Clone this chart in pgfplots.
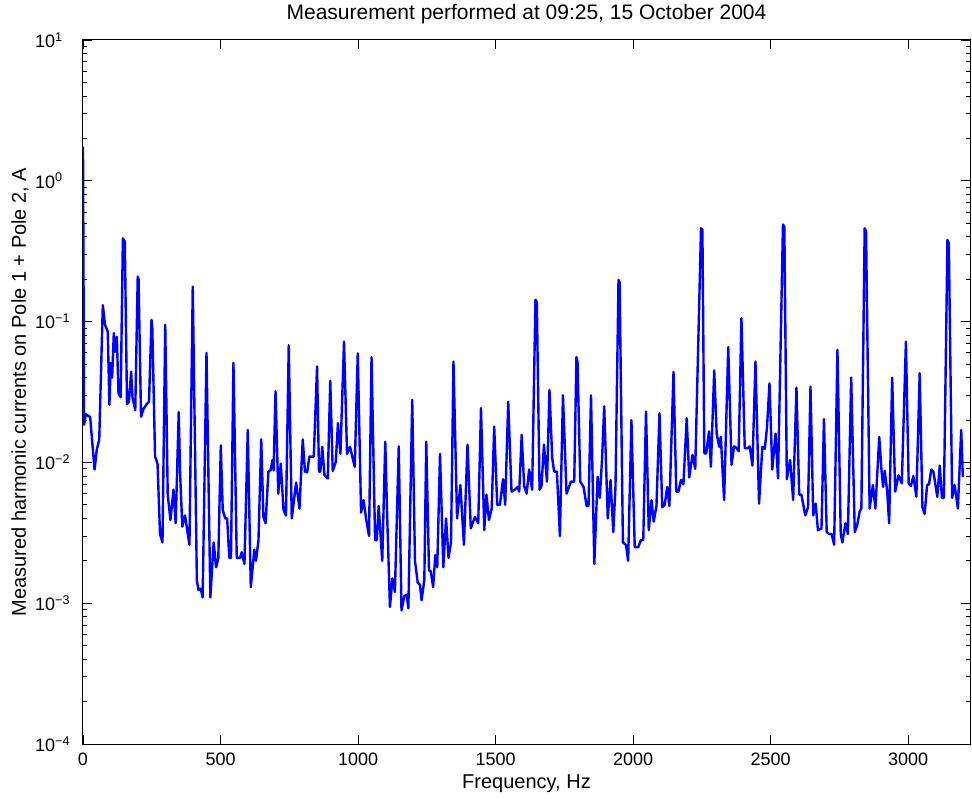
\documentclass[border=0pt]{standalone}
\usepackage{fontspec}
\setmainfont{Liberation Sans}
\usepackage{pgfplots}
\pgfplotsset{compat=1.18}

\begin{document}
\begin{tikzpicture}
% picture frame = 972 x 798 px, axis box from (83,40) to (970,744)
\path[use as bounding box] (-83pt,-54pt) rectangle (889pt,744pt);
\begin{axis}[
  at={(0pt,0pt)}, anchor=south west,
  scale only axis, width=887pt, height=704pt,
  xmin=0, xmax=3225,
  ymode=log, ymin=1e-4, ymax=1e1,
  xtick={0,500,1000,1500,2000,2500,3000},
  scaled x ticks=false,
  /pgf/number format/1000 sep={},
  /pgf/number format/assume math mode=true,
  ytick={1e-4,1e-3,1e-2,1e-1,1,10},
  yticklabels={10\textsuperscript{−4},10\textsuperscript{−3},10\textsuperscript{−2},10\textsuperscript{−1},10\textsuperscript{0},10\textsuperscript{1}},
  tick align=inside,
  major tick length=9pt, minor tick length=4.5pt,
  axis line style={line width=1pt},
  every tick/.style={black, line width=0.8pt},
  xticklabel style={font=\fontsize{18}{20}\selectfont, yshift=-5pt},
  yticklabel style={font=\fontsize{18}{20}\selectfont, anchor=west, inner sep=0pt, xshift=-48pt},
  xlabel={Frequency, Hz},
  ylabel={Measured harmonic currents on Pole 1 + Pole 2, A},
  title={Measurement performed at 09:25, 15 October 2004},
  xlabel style={font=\fontsize{20}{22}\selectfont, at={(axis description cs:0.5,0)}, anchor=base, yshift=-44pt},
  ylabel style={font=\fontsize{20}{22}\selectfont, at={(axis description cs:0,0.5)}, anchor=base, yshift=57pt},
  title style={font=\fontsize{21}{23}\selectfont, at={(axis description cs:0.5,1)}, anchor=base, yshift=14pt},
]
\addplot[color={rgb,1:red,0;green,0;blue,1}, line width=2.4pt, line join=round, no markers] table {
f a
0 1.75
4 0.0185
10 0.022
26 0.021
42 0.0089
50 0.0123
59 0.0145
72 0.131
80 0.095
90 0.085
96 0.0256
101 0.051
106 0.040
112 0.083
117 0.061
123 0.078
129 0.031
137 0.029
145 0.39
152 0.37
160 0.026
167 0.027
175 0.044
180 0.029
190 0.0235
199 0.209
202 0.2
211 0.0211
220 0.024
232 0.026
240 0.027
249 0.103
252 0.09
262 0.011
271 0.0098
280 0.0031
289 0.0027
299 0.095
308 0.0059
318 0.0039
329 0.0064
337 0.0037
348 0.0228
353 0.0084
361 0.0035
371 0.0042
387 0.0026
399 0.177
414 0.00145
420 0.00124
428 0.00127
435 0.0011
449 0.06
463 0.0011
475 0.0027
484 0.0018
492 0.0021
501 0.0132
508 0.0046
517 0.004
524 0.004
532 0.0021
538 0.0021
547 0.051
559 0.0021
571 0.0021
577 0.0023
587 0.0019
599 0.017
610 0.0013
623 0.0024
629 0.002
638 0.0028
648 0.0146
656 0.0041
664 0.0037
674 0.0086
682 0.0088
689 0.0104
693 0.0088
700 0.032
710 0.006
719 0.0098
729 0.0046
738 0.0042
748 0.068
759 0.004
775 0.0072
787 0.0047
799 0.0146
807 0.0086
815 0.0085
823 0.011
831 0.011
839 0.011
851 0.048
858 0.0086
863 0.0086
870 0.0129
878 0.0081
890 0.0077
899 0.038
908 0.0087
919 0.0101
927 0.019
936 0.0115
949 0.072
960 0.0115
971 0.0129
979 0.011
988 0.0093
999 0.0596
1011 0.0044
1020 0.0054
1030 0.0039
1040 0.003
1049 0.056
1062 0.0028
1068 0.0028
1075 0.0049
1088 0.002
1099 0.014
1106 0.0041
1116 0.00094
1125 0.0015
1134 0.0012
1148 0.013
1158 0.00089
1168 0.00112
1177 0.00115
1183 0.00092
1197 0.0278
1207 0.002
1217 0.0014
1225 0.00135
1231 0.00105
1241 0.00146
1248 0.014
1258 0.0017
1264 0.0017
1273 0.0013
1281 0.0022
1288 0.0018
1298 0.0115
1310 0.0018
1320 0.004
1329 0.0021
1338 0.0027
1347 0.052
1360 0.004
1372 0.0069
1385 0.0026
1398 0.0134
1410 0.0034
1425 0.0041
1437 0.0037
1447 0.0243
1459 0.0033
1467 0.0059
1476 0.0039
1486 0.0047
1495 0.018
1506 0.005
1516 0.005
1527 0.0076
1535 0.005
1546 0.027
1558 0.0062
1570 0.0064
1580 0.0067
1586 0.0062
1595 0.0157
1604 0.0068
1613 0.006
1622 0.0089
1633 0.0064
1645 0.143
1650 0.138
1660 0.0064
1667 0.0068
1676 0.0134
1687 0.0073
1696 0.0327
1706 0.0107
1713 0.0086
1723 0.0086
1734 0.003
1745 0.030
1758 0.006
1774 0.0073
1786 0.0073
1794 0.056
1798 0.052
1808 0.0073
1820 0.0067
1831 0.0049
1838 0.0049
1847 0.030
1859 0.0019
1871 0.0079
1879 0.0056
1887 0.0104
1895 0.025
1908 0.004
1918 0.0075
1928 0.0032
1936 0.0067
1947 0.198
1951 0.19
1963 0.0027
1974 0.0026
1982 0.002
1994 0.02
2006 0.0025
2019 0.0025
2028 0.0028
2037 0.0028
2047 0.023
2057 0.0033
2067 0.0054
2075 0.0038
2085 0.0049
2096 0.0224
2106 0.0048
2115 0.005
2124 0.0067
2132 0.0049
2147 0.044
2157 0.0062
2165 0.0062
2174 0.0075
2183 0.007
2195 0.0206
2204 0.0078
2216 0.0113
2226 0.009
2247 0.46
2252 0.45
2259 0.0116
2266 0.0116
2276 0.0166
2283 0.0093
2295 0.045
2304 0.016
2313 0.0129
2319 0.0152
2331 0.0054
2346 0.066
2358 0.0096
2367 0.013
2376 0.0127
2384 0.012
2394 0.106
2406 0.0126
2416 0.0126
2424 0.013
2434 0.0095
2445 0.052
2458 0.0051
2470 0.0129
2479 0.0125
2487 0.0179
2496 0.0365
2506 0.0089
2518 0.016
2527 0.0077
2545 0.49
2550 0.47
2559 0.0076
2571 0.0104
2582 0.0054
2594 0.034
2604 0.0059
2612 0.0059
2626 0.0042
2636 0.0048
2645 0.0345
2655 0.0042
2664 0.0051
2672 0.0033
2685 0.0034
2694 0.0203
2704 0.0032
2713 0.0031
2722 0.0031
2731 0.0026
2743 0.063
2755 0.0031
2761 0.0027
2772 0.0037
2781 0.0031
2793 0.04
2806 0.0032
2815 0.0036
2824 0.0045
2830 0.0047
2842 0.46
2847 0.44
2860 0.0047
2872 0.0069
2881 0.0047
2895 0.0152
2903 0.0089
2909 0.0067
2915 0.0087
2924 0.0062
2931 0.0037
2942 0.04
2953 0.0062
2965 0.0081
2977 0.0071
2992 0.072
3002 0.0071
3010 0.0068
3019 0.008
3030 0.0057
3042 0.043
3052 0.0048
3060 0.0043
3069 0.0069
3076 0.007
3084 0.0089
3092 0.0086
3106 0.0057
3115 0.0095
3123 0.0056
3130 0.0056
3143 0.38
3148 0.36
3160 0.0056
3169 0.0069
3181 0.0047
3193 0.017
3199 0.0079
};
\end{axis}
\end{tikzpicture}
\end{document}
